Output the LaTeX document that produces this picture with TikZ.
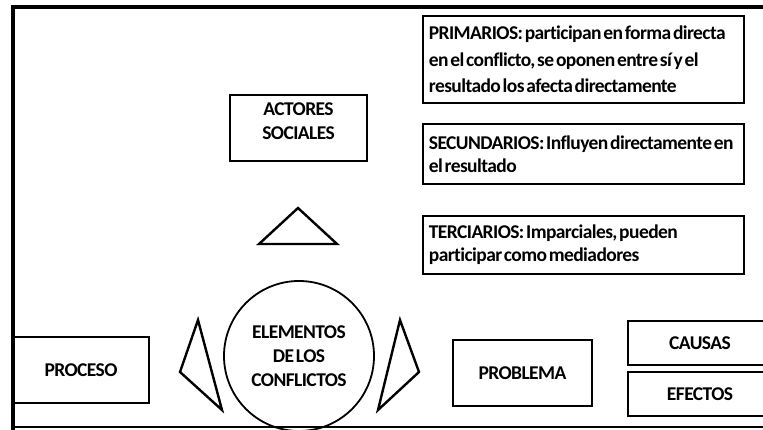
\documentclass[tikz,border=0pt]{standalone}
\usepackage{fontspec}
\setmainfont{Carlito}[Ligatures=NoCommon, LetterSpace=-3]
\newcommand\tightsp{\frenchspacing\spaceskip=0.09em plus 0.03em\relax}
\begin{document}
\begin{tikzpicture}[x=1pt,y=-1pt,
  box/.style={draw, line width=1.8pt, rectangle, inner sep=0pt},
  txt/.style={font=\bfseries\fontsize{19.5}{24}\selectfont\tightsp},
  desc/.style={box, anchor=north west, align=left, text width=309pt, inner xsep=6pt, inner ysep=0pt,
    font=\bfseries\fontsize{19.5}{23}\selectfont},
  tri/.style={draw, line width=2.4pt, line join=miter}]
\useasboundingbox (0,0) rectangle (763,430);
% frame
\draw[line width=3.5pt] (13,430) -- (13,7) -- (770,7);
\draw[line width=1.5pt] (13,427) -- (770,427);

% right descriptions
\node[desc, minimum height=87pt, font=\bfseries\fontsize{19.5}{26.5}\selectfont] (prim) at (422,15)
  {\tightsp\mbox{PRIMARIOS: participan en forma directa}\\\mbox{en el conflicto, se oponen entre sí y el}\\\mbox{resultado los afecta directamente}};
\node[desc, minimum height=60pt] (sec) at (422,123)
  {\tightsp\mbox{SECUNDARIOS: Influyen directamente en}\\\mbox{el resultado}};
\node[desc, minimum height=58pt] (ter) at (422,215)
  {\tightsp\mbox{TERCIARIOS: Imparciales, pueden}\\\mbox{participar como mediadores}};

% actores sociales
\node[box, minimum width=137pt, minimum height=66pt,
  label={[txt, align=center, anchor=north, yshift=-5pt]north:ACTORES\\SOCIALES}] (act) at (298.5,128) {};

% up triangle
\draw[tri] (298,208) -- (337,244) -- (259,244) -- cycle;

% circle
\node[draw, circle, line width=1.8pt, minimum size=150pt, inner sep=0pt, txt, align=center] (elem) at (299,356)
  {ELEMENTOS\\DE LOS\\CONFLICTOS};

% side triangles
\draw[tri] (198,320) -- (222,410) -- (180,372) -- cycle;
\draw[tri] (400,320) -- (378,410) -- (419,372) -- cycle;

% bottom boxes
\node[box, txt, minimum width=136pt, minimum height=66pt] (proc) at (81,370) {PROCESO};
\node[box, txt, minimum width=139pt, minimum height=66pt] (prob) at (522.5,373) {PROBLEMA};
\node[box, txt, minimum width=144pt, minimum height=44pt] (causas) at (700,343) {CAUSAS};
\node[box, txt, minimum width=144pt, minimum height=44pt] (efectos) at (700,394) {EFECTOS};
\end{tikzpicture}
\end{document}
